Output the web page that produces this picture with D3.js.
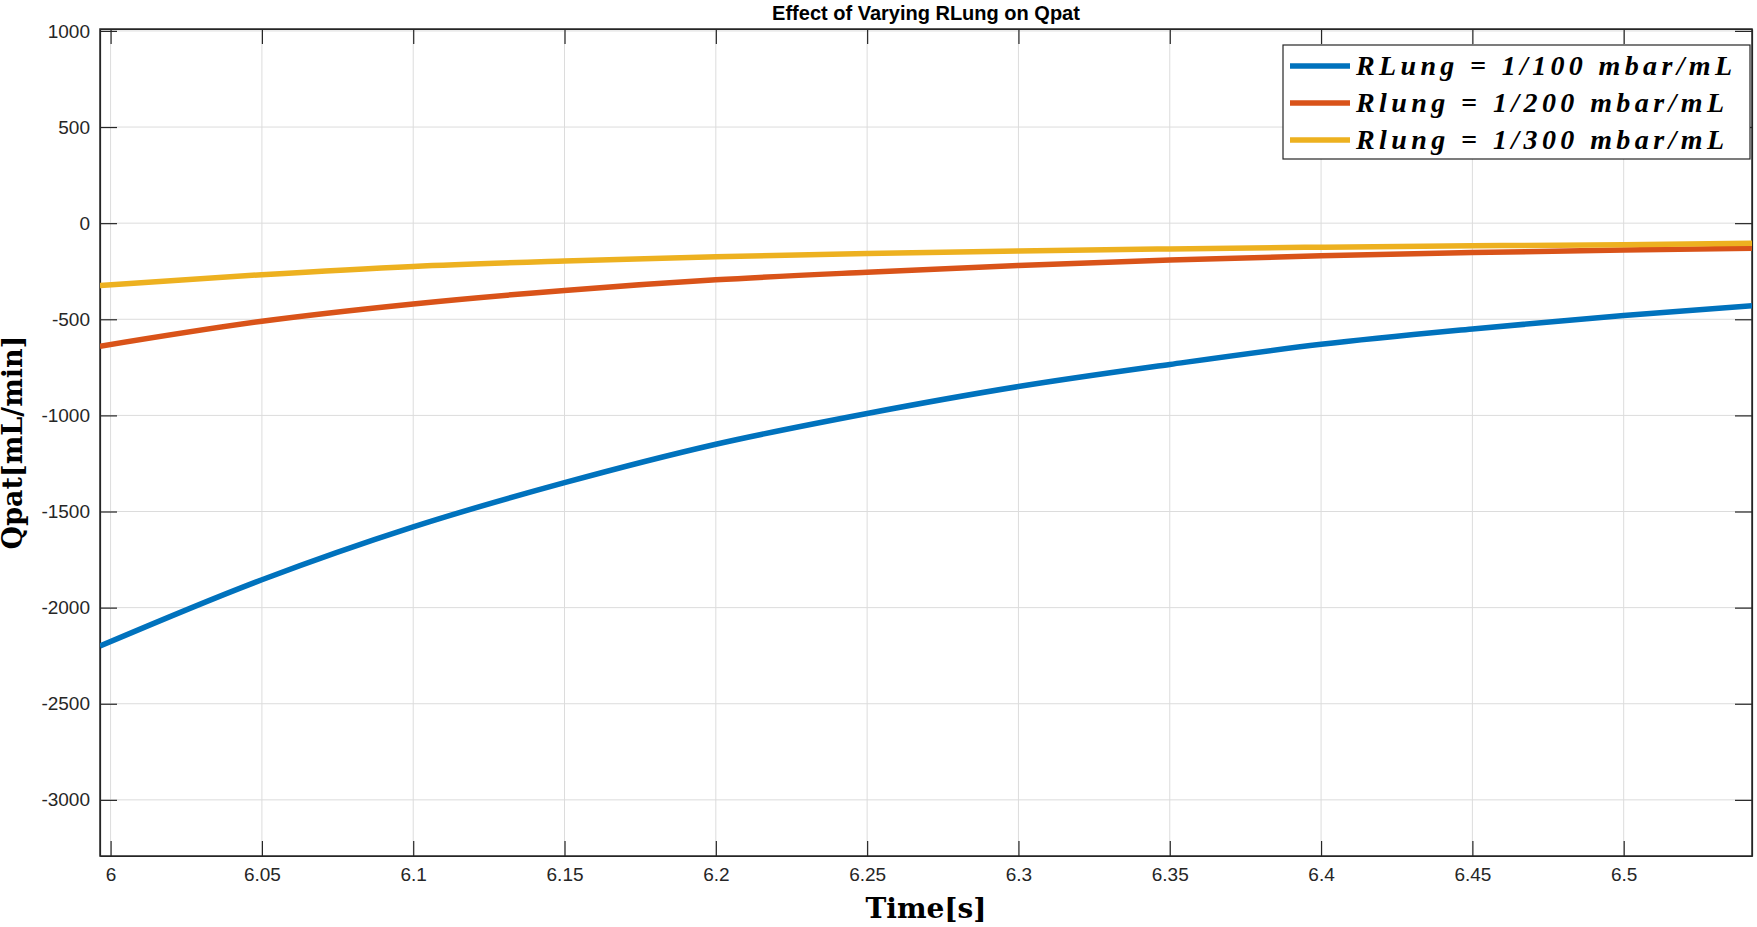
<!DOCTYPE html><html><head><meta charset="utf-8"><script src="https://cdn.jsdelivr.net/npm/d3@7"></script>
<style>body{margin:0;background:#fff}</style></head><body><svg id="c" width="1757" height="927"></svg><script>
const times=[5.9965,6.05,6.1,6.15,6.2,6.25,6.3,6.35,6.4,6.45,6.5,6.5424];
const blue=[-2200,-1855,-1580,-1350,-1150,-990,-850,-735,-630,-550,-480,-430];
const orange=[-640,-510,-420,-350,-295,-255,-220,-192,-170,-153,-140,-130];
const yellow=[-325,-268,-225,-197,-175,-158,-145,-134,-125,-118,-112,-105];
const names=["RLung = 1/100 mbar/mL","Rlung = 1/200 mbar/mL","Rlung = 1/300 mbar/mL"];
const colors=["#0072BD","#D95319","#EDB120"];
const xTicks=[6,6.05,6.1,6.15,6.2,6.25,6.3,6.35,6.4,6.45,6.5];
const yTicks=[1000,500,0,-500,-1000,-1500,-2000,-2500,-3000];
const svg=d3.select("#c"),L=100,R=1752,T=29,B=856;
const x=d3.scaleLinear().domain([5.9965,6.5424]).range([L,R]);
const y=d3.scaleLinear().domain([-3292,1010]).range([B,T]);
const g=svg.append("g");
xTicks.forEach(t=>g.append("line").attr("x1",x(t)).attr("x2",x(t)).attr("y1",T).attr("y2",B).attr("stroke","#dcdcdc"));
yTicks.forEach(t=>g.append("line").attr("x1",L).attr("x2",R).attr("y1",y(t)).attr("y2",y(t)).attr("stroke","#dcdcdc"));
const ax=svg.append("g").attr("transform",`translate(0,${B})`).call(d3.axisBottom(x).tickValues(xTicks).tickFormat(d=>String(+d.toFixed(2))).tickSizeInner(-15).tickSizeOuter(0).tickPadding(12));
const at=svg.append("g").attr("transform",`translate(0,${T})`).call(d3.axisTop(x).tickValues(xTicks).tickFormat("").tickSizeInner(-15).tickSizeOuter(0));
const ay=svg.append("g").attr("transform",`translate(${L},0)`).call(d3.axisLeft(y).tickValues(yTicks).tickFormat(d=>String(d)).tickSizeInner(-17).tickSizeOuter(0).tickPadding(10));
const ar=svg.append("g").attr("transform",`translate(${R},0)`).call(d3.axisRight(y).tickValues(yTicks).tickFormat("").tickSizeInner(-17).tickSizeOuter(0));
[ax,at,ay,ar].forEach(a=>{a.selectAll("path,line").attr("stroke","#262626").attr("stroke-width",1.2);a.selectAll("text").attr("font-family","Liberation Sans, Arial").attr("font-size",19).attr("fill","#262626");});
svg.append("rect").attr("x",L).attr("y",T).attr("width",R-L).attr("height",B-T).attr("fill","none").attr("stroke","#262626").attr("stroke-width",1.5);
const line=d3.line().x((d,i)=>x(times[i])).y(d=>y(d)).curve(d3.curveMonotoneX);
svg.append("clipPath").attr("id","cp").append("rect").attr("x",L).attr("y",T).attr("width",R-L).attr("height",B-T);
[blue,orange,yellow].forEach((s,i)=>svg.append("path").attr("d",line(s)).attr("fill","none").attr("stroke",colors[i]).attr("stroke-width",5.5).attr("clip-path","url(#cp)"));
svg.append("text").attr("x",(L+R)/2).attr("y",20).attr("text-anchor","middle").attr("font-family","Liberation Sans, Arial").attr("font-weight","bold").attr("font-size",20).text("Effect of Varying RLung on Qpat");
svg.append("text").attr("x",(L+R)/2).attr("y",918).attr("text-anchor","middle").attr("font-family","DejaVu Serif").attr("font-weight","bold").attr("font-size",28).text("Time[s]");
svg.append("text").attr("transform",`translate(22,${(T+B)/2}) rotate(-90)`).attr("text-anchor","middle").attr("font-family","DejaVu Serif").attr("font-weight","bold").attr("font-size",27).text("Qpat[mL/min]");
const lg=svg.append("g");
lg.append("rect").attr("x",1283).attr("y",45).attr("width",467).attr("height",114).attr("fill","#fff").attr("stroke","#262626").attr("stroke-width",1.2);
names.forEach((n,i)=>{const yy=66+i*37;
lg.append("line").attr("x1",1290).attr("x2",1350).attr("y1",yy).attr("y2",yy).attr("stroke",colors[i]).attr("stroke-width",5.5);
lg.append("text").attr("x",1356).attr("y",yy+9).attr("font-family","Liberation Serif").attr("font-style","italic").attr("font-weight","bold").attr("font-size",28).attr("textLength",i==0?376:368).text(n);});
</script></body></html>
